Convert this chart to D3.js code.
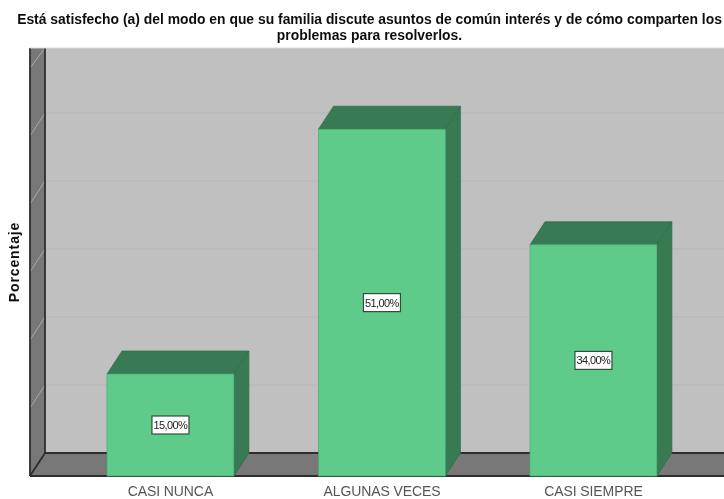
<!DOCTYPE html>
<html>
<head>
<meta charset="utf-8">
<script src="https://cdn.jsdelivr.net/npm/d3@7"></script>
<style>
  html, body { margin: 0; padding: 0; background: #fff; }
  svg { display: block; }
</style>
</head>
<body>
<script>
// Chart values
var categories = ["CASI NUNCA", "ALGUNAS VECES", "CASI SIEMPRE"];
var percentages = [15, 51, 34];
var gridTicks = [0, 10, 20, 30, 40, 50, 60];
var titleLines = [
  "Está satisfecho (a) del modo en que su familia discute asuntos de común interés y de cómo comparten los",
  "problemas para resolverlos."
];
var yLabel = "Porcentaje";

var svgWidth = 724;
var svgHeight = 499;

// 3D offset of the back wall from the front plane
var depthX = 15;
var depthY = -23;

var plotLeft = 30;
var plotRight = 724;
var plotTop = 48;
var floorY = 476;

var svg = d3.select("body")
  .append("svg")
  .attr("width", svgWidth)
  .attr("height", svgHeight);

// the source picture is a soft upscaled image
svg.append("filter")
  .attr("id", "soft")
  .append("feGaussianBlur")
  .attr("stdDeviation", 0.55);

var chartGroup = svg.append("g").attr("filter", "url(#soft)");

var xScale = d3.scaleBand()
  .domain(categories)
  .range([64.7, 699.2])
  .paddingInner(0.4)
  .paddingOuter(0.2);

var yScale = d3.scaleLinear()
  .domain([0, 60])
  .range([floorY, floorY - 408]);

var poly = d3.line();

// back wall
chartGroup.append("rect")
  .attr("x", plotLeft + depthX)
  .attr("y", plotTop)
  .attr("width", plotRight - plotLeft - depthX)
  .attr("height", floorY + depthY - plotTop)
  .attr("fill", "#c0c0c0");

// left wall
chartGroup.append("path")
  .attr("d", poly([[plotLeft, plotTop], [plotLeft + depthX, plotTop], [plotLeft + depthX, floorY + depthY], [plotLeft, floorY]]) + "Z")
  .attr("fill", "#787878");

// floor
chartGroup.append("path")
  .attr("d", poly([[plotLeft + depthX, floorY + depthY], [plotRight, floorY + depthY], [plotRight, floorY], [plotLeft, floorY]]) + "Z")
  .attr("fill", "#787878");

// grid lines on the back wall and their diagonals on the left wall
var visibleTicks = gridTicks.filter(d => d > 0 && yScale(d) + depthY > plotTop);

chartGroup.selectAll(".grid")
  .data(visibleTicks)
  .enter()
  .append("line")
  .attr("x1", plotLeft + depthX)
  .attr("x2", plotRight)
  .attr("y1", d => yScale(d) + depthY)
  .attr("y2", d => yScale(d) + depthY)
  .attr("stroke", "#b6b6b6")
  .attr("stroke-width", 1);

chartGroup.selectAll(".wallGrid")
  .data(gridTicks.filter(d => d > 0))
  .enter()
  .append("line")
  .attr("x1", plotLeft)
  .attr("x2", plotLeft + depthX)
  .attr("y1", d => yScale(d))
  .attr("y2", d => Math.max(yScale(d) + depthY, plotTop))
  .attr("stroke", "#a8a8a8")
  .attr("stroke-width", 1);

// wall and floor edges
var edges = [
  [[plotLeft, plotTop], [plotLeft, floorY]],
  [[plotLeft + depthX, plotTop], [plotLeft + depthX, floorY + depthY]],
  [[plotLeft + depthX, floorY + depthY], [plotRight, floorY + depthY]],
  [[plotLeft, floorY], [plotLeft + depthX, floorY + depthY]],
  [[plotLeft, floorY], [plotRight, floorY]]
];

chartGroup.selectAll(".edge")
  .data(edges)
  .enter()
  .append("path")
  .attr("d", d => poly(d))
  .attr("fill", "none")
  .attr("stroke", "#2e2e2e")
  .attr("stroke-width", 1.8);

chartGroup.append("line")
  .attr("x1", plotLeft)
  .attr("x2", plotRight)
  .attr("y1", plotTop)
  .attr("y2", plotTop)
  .attr("stroke", "#d8d8d8");

// bars
var barGroups = chartGroup.selectAll(".bar")
  .data(percentages)
  .enter()
  .append("g");

// top face
barGroups.append("path")
  .attr("d", function(d, i) {
    var x0 = xScale(categories[i]);
    var x1 = x0 + xScale.bandwidth();
    var y = yScale(d);
    return poly([[x0, y], [x1, y], [x1 + depthX, y + depthY], [x0 + depthX, y + depthY]]) + "Z";
  })
  .attr("fill", "#377a52")
  .attr("stroke", "#2e6b47")
  .attr("stroke-width", 0.7);

// side face
barGroups.append("path")
  .attr("d", function(d, i) {
    var x1 = xScale(categories[i]) + xScale.bandwidth();
    var y = yScale(d);
    return poly([[x1, y], [x1 + depthX, y + depthY], [x1 + depthX, floorY + depthY], [x1, floorY]]) + "Z";
  })
  .attr("fill", "#377a52")
  .attr("stroke", "#2e6b47")
  .attr("stroke-width", 0.7);

// front face
barGroups.append("rect")
  .attr("x", (d, i) => xScale(categories[i]))
  .attr("y", d => yScale(d))
  .attr("width", xScale.bandwidth())
  .attr("height", d => floorY - yScale(d))
  .attr("fill", "#5ecb8b")
  .attr("stroke", "#4aa873")
  .attr("stroke-width", 0.7);

// value labels
var labelFormat = d => d.toFixed(2).replace(".", ",") + "%";

barGroups.append("rect")
  .attr("x", (d, i) => xScale(categories[i]) + xScale.bandwidth() / 2 - 18.5)
  .attr("y", d => (yScale(d) + floorY) / 2 - 9)
  .attr("width", 37)
  .attr("height", 18)
  .attr("fill", "#ffffff")
  .attr("stroke", "#2f4f3c")
  .attr("stroke-width", 1.2);

barGroups.append("text")
  .attr("x", (d, i) => xScale(categories[i]) + xScale.bandwidth() / 2)
  .attr("y", d => (yScale(d) + floorY) / 2 + 4)
  .attr("text-anchor", "middle")
  .attr("font-family", "Liberation Sans")
  .attr("font-size", 11)
  .attr("letter-spacing", -0.6)
  .attr("fill", "#222222")
  .text(d => labelFormat(d));

// category axis
var bottomAxis = d3.axisBottom(xScale).tickSize(0).tickPadding(10);

var axisGroup = chartGroup.append("g")
  .attr("transform", `translate(0, ${floorY})`)
  .call(bottomAxis);

axisGroup.select(".domain").remove();

axisGroup.selectAll("text")
  .attr("font-family", "Liberation Sans")
  .attr("font-size", 14)
  .attr("letter-spacing", -0.1)
  .attr("fill", "#555555");

// y axis title
chartGroup.append("text")
  .attr("transform", "translate(19, 262) rotate(-90)")
  .attr("text-anchor", "middle")
  .attr("font-family", "Liberation Sans")
  .attr("font-weight", "bold")
  .attr("font-size", 14)
  .attr("letter-spacing", 0.9)
  .attr("fill", "#111111")
  .text(yLabel);

// title
chartGroup.selectAll(".title")
  .data(titleLines)
  .enter()
  .append("text")
  .attr("x", 369.5)
  .attr("y", (d, i) => 24 + i * 16)
  .attr("text-anchor", "middle")
  .attr("font-family", "Liberation Sans")
  .attr("font-weight", "bold")
  .attr("font-size", 13.9)
  .attr("fill", "#111111")
  .text(d => d);
</script>
</body>
</html>
